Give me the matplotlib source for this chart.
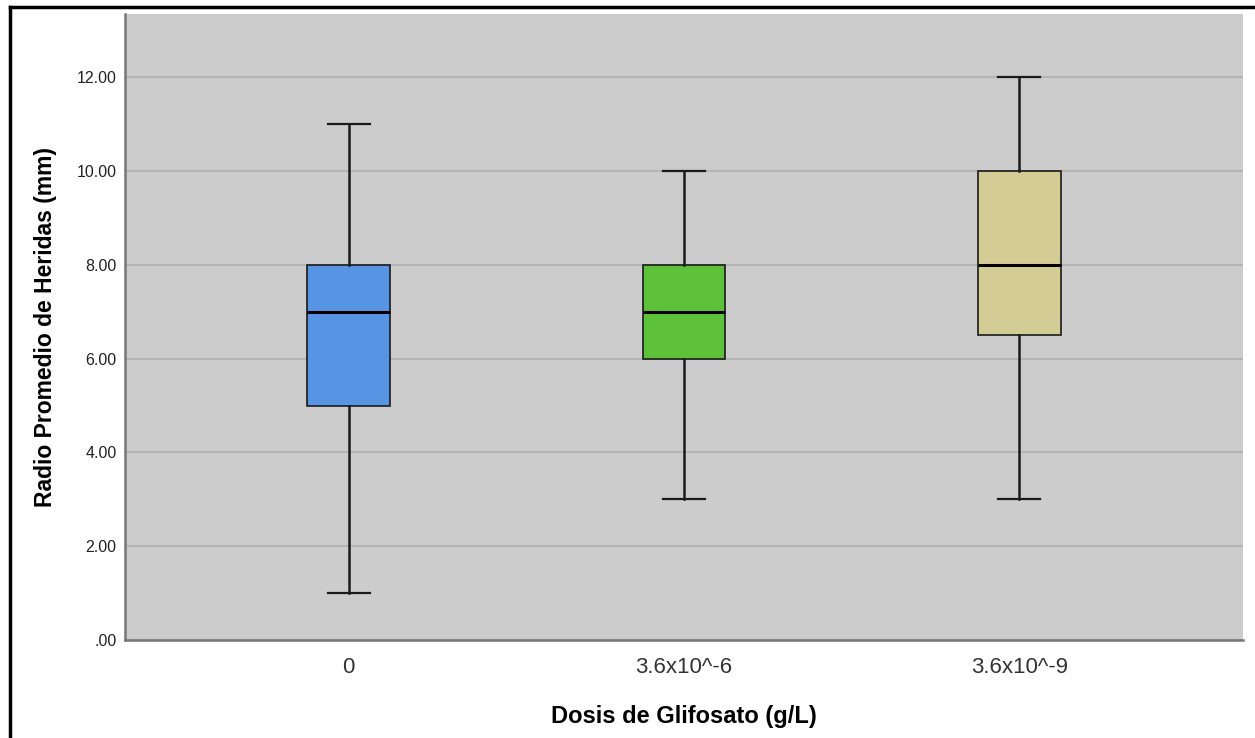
import matplotlib
matplotlib.use("Agg")
import matplotlib.pyplot as plt
from matplotlib.lines import Line2D

plt.rcParams['font.family'] = ['Liberation Sans', 'DejaVu Sans']

groups = ["0", "3.6x10^-6", "3.6x10^-9"]
whislo = [1.0, 3.0, 3.0]
q1 = [5.0, 6.0, 6.5]
med = [7.0, 7.0, 8.0]
q3 = [8.0, 8.0, 10.0]
whishi = [11.0, 10.0, 12.0]
colors = ["#5795e4", "#5ec13a", "#d3cc94"]

stats = []
for i, g in enumerate(groups):
    stats.append({"label": g, "whislo": whislo[i], "q1": q1[i], "med": med[i],
                  "q3": q3[i], "whishi": whishi[i], "fliers": []})

fig = plt.figure(figsize=(12.55, 7.38), dpi=100)
ax = fig.add_axes([0.0996, 0.1328, 0.8908, 0.8482])
ax.set_facecolor("#cccccc")

bp = ax.bxp(stats, positions=range(len(groups)), widths=0.247, patch_artist=True,
            showfliers=False,
            boxprops=dict(edgecolor="#1a1a1a", linewidth=1.2),
            medianprops=dict(color="black", linewidth=2.2),
            whiskerprops=dict(color="#1a1a1a", linewidth=1.8),
            capprops=dict(color="#1a1a1a", linewidth=1.6), capwidths=0.125)
for patch, c in zip(bp["boxes"], colors):
    patch.set_facecolor(c)

ax.set_xlim(-0.667, 2.667)
ax.set_ylim(0, 13.35)
ax.set_yticks([0, 2, 4, 6, 8, 10, 12])
ax.set_yticklabels([".00", "2.00", "4.00", "6.00", "8.00", "10.00", "12.00"])
ax.yaxis.grid(True, color="#b4b4b4", linewidth=1.5)
ax.set_axisbelow(True)
ax.tick_params(length=0)
ax.tick_params(axis="y", labelsize=11.5, pad=6, colors="#222222")
ax.tick_params(axis="x", labelsize=16, pad=12, colors="#333333")

for s in ["top", "right"]:
    ax.spines[s].set_visible(False)
for s in ["left", "bottom"]:
    ax.spines[s].set_color("#777777")
    ax.spines[s].set_linewidth(1.8)

ax.set_xlabel("Dosis de Glifosato (g/L)", fontsize=17, fontweight="bold", labelpad=20)
ax.set_ylabel("Radio Promedio de Heridas (mm)", fontsize=16.5, fontweight="bold", labelpad=14)

# outer frame (left and top edges)
fig.add_artist(Line2D([0.0076, 0.0076], [0, 0.991], color="black", linewidth=2.5))
fig.add_artist(Line2D([0.0076, 1.0], [0.991, 0.991], color="black", linewidth=2.5))

fig.savefig("out.png", dpi=100)
